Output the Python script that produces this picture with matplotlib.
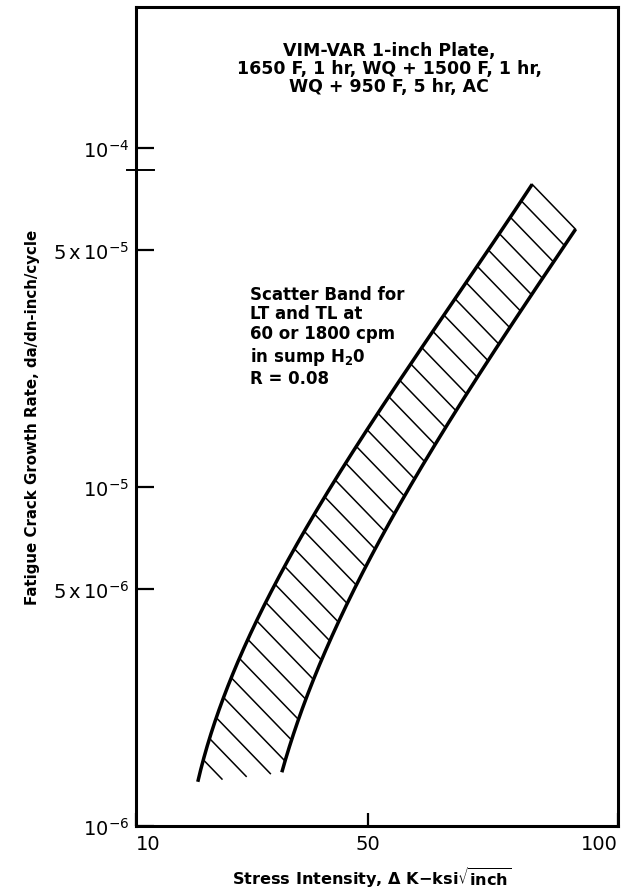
import numpy as np
import matplotlib
matplotlib.use("Agg")
import matplotlib.pyplot as plt
from matplotlib.transforms import blended_transform_factory

plt.rcParams["font.family"] = ["DejaVu Sans"]
plt.rcParams["mathtext.default"] = "bf"

# Upper (left) boundary of the scatter band: stress intensity vs growth rate
upper_dk = [19.5, 23.0, 27.3, 32.5, 39.1, 45.9, 54.1, 60.6, 68.4, 77.2, 81.9]
upper_rate = [1.35e-6, 2.12e-6, 3.2e-6, 4.9e-6, 8.0e-6, 1.23e-5, 1.88e-5,
              2.56e-5, 3.8e-5, 6.0e-5, 7.8e-5]

# Lower (right) boundary of the scatter band
lower_dk = [34.2, 37.9, 43.5, 49.1, 55.4, 61.9, 68.4, 74.5, 81.2, 88.1, 91.5]
lower_rate = [1.44e-6, 2.25e-6, 3.72e-6, 5.71e-6, 8.5e-6, 1.23e-5, 1.83e-5,
              2.48e-5, 3.58e-5, 5.0e-5, 5.75e-5]

x_ticks = [10, 50, 100]
x_tick_labels = ["10", "50", "100"]
y_ticks = [1e-6, 5e-6, 1e-5, 5e-5, 1e-4]
y_tick_labels = [r"$\mathrm{10^{-6}}$", r"$\mathrm{5\,x\,10^{-6}}$",
                 r"$\mathrm{10^{-5}}$", r"$\mathrm{5\,x\,10^{-5}}$",
                 r"$\mathrm{10^{-4}}$"]
y_break = 8.6e-5
n_hatch = 34

title_text = ("VIM-VAR 1-inch Plate,\n1650 F, 1 hr, WQ + 1500 F, 1 hr,\n"
              "WQ + 950 F, 5 hr, AC")
band_text = ("Scatter Band for\nLT and TL at\n60 or 1800 cpm\n"
             "in sump H$_2$0\nR = 0.08")

# stress-intensity axis is slightly compressed toward the high end
P = 0.85


def fwd(x):
    return np.sign(x) * np.abs(x) ** P


def inv(u):
    return np.sign(u) * np.abs(u) ** (1 / P)


def smooth_curve(dk, rate, n=300):
    """Smooth boundary in scaled coordinates: cubic in log10(rate)."""
    ly = np.log10(rate)
    coef = np.polyfit(ly, fwd(np.asarray(dk)), 3)
    lyy = np.linspace(ly[0], ly[-1], n)
    return np.polyval(coef, lyy), lyy


uu, lyu = smooth_curve(upper_dk, upper_rate)
ul, lyl = smooth_curve(lower_dk, lower_rate)

fig = plt.figure(figsize=(6.41, 8.95), dpi=100)
ax = fig.add_axes([136 / 641, 1 - 827 / 895, 482 / 641, 819 / 895])
ax.set_xscale("function", functions=(fwd, inv))
ax.set_yscale("log")
ax.set_xlim(10, 100)
ax.set_ylim(1e-6, 2.6e-4)

# band outlines
ax.plot(inv(uu), 10 ** lyu, color="black", lw=2.5, solid_capstyle="butt")
ax.plot(inv(ul), 10 ** lyl, color="black", lw=2.5, solid_capstyle="butt")

# hatching: parallel lines between the two outlines, closed off at the
# bottom by the line joining the two lower ends
s = (lyl[-1] - lyu[-1]) / (ul[-1] - uu[-1])
cu = lyu - s * uu
cl = lyl - s * ul
db = (cu[-1] - cu[0]) / n_hatch
for k in range(n_hatch):
    b = cu[-1] - k * db
    u0 = np.interp(b, cu, uu)
    y0 = np.interp(b, cu, lyu)
    if b >= cl[0]:
        u1 = np.interp(b, cl, ul)
        y1 = np.interp(b, cl, lyl)
    else:
        t = (b - cu[0]) / (cl[0] - cu[0])
        u1 = uu[0] + t * (ul[0] - uu[0])
        y1 = lyu[0] + t * (lyl[0] - lyu[0])
    ax.plot(inv(np.array([u0, u1])), [10 ** y0, 10 ** y1],
            color="black", lw=1.1)

# axes styling
for sp in ax.spines.values():
    sp.set_linewidth(2.2)
ax.set_xticks(x_ticks)
ax.set_xticklabels(x_tick_labels)
ax.xaxis.set_minor_locator(matplotlib.ticker.NullLocator())
ax.set_yticks(y_ticks)
ax.set_yticklabels(y_tick_labels)
ax.yaxis.set_minor_locator(matplotlib.ticker.NullLocator())
ax.tick_params(axis="both", direction="in", width=1.6, labelsize=14)
ax.tick_params(axis="y", length=13, pad=5)
ax.tick_params(axis="x", length=9.5, pad=6)
for lab in ax.get_xticklabels() + ax.get_yticklabels():
    lab.set_fontweight("normal")
xl_labels = ax.get_xticklabels()
xl_labels[0].set_ha("left")
xl_labels[-1].set_ha("right")

# axis break symbol on the rate axis
trans = blended_transform_factory(ax.transAxes, ax.transData)
ax.plot([-0.018, 0.037], [y_break, y_break], color="black", lw=1.4,
        transform=trans, clip_on=False)

ax.set_xlabel(r"Stress Intensity, $\Delta$ K$-$ksi$\sqrt{\mathbf{inch}}$",
              fontsize=11.6, fontweight="bold")
ax.xaxis.set_label_coords(0.49, -0.046)
ax.set_ylabel("Fatigue Crack Growth Rate, da/dn-inch/cycle",
              fontsize=10.8, fontweight="bold")
ax.yaxis.set_label_coords(-0.199, 0.5)

ax.text(0.525, 0.958, title_text, transform=ax.transAxes, ha="center",
        va="top", fontsize=12.5, fontweight="bold", linespacing=1.0)
ax.text(0.2365, 3.95e-5, band_text, transform=trans, ha="left", va="top",
        fontsize=12, fontweight="bold", linespacing=1.14)

fig.savefig("out.png", dpi=100)
